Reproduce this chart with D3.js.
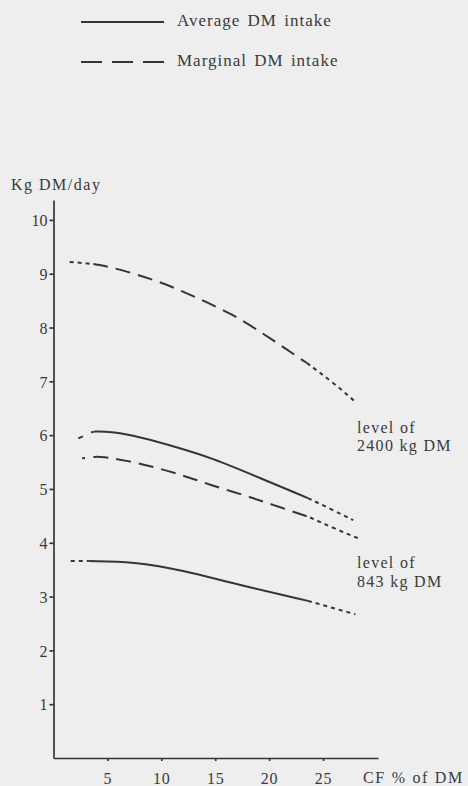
<!DOCTYPE html>
<html>
<head>
<meta charset="utf-8">
<script src="https://cdn.jsdelivr.net/npm/d3@7"></script>
<style>
  html, body { margin: 0; padding: 0; background: #eeeeee; }
  svg text { font-family: "Liberation Serif", "DejaVu Serif", serif; fill: #3a3a3a; }
</style>
</head>
<body>
<div class="svg-content"></div>
<script>
// tick values
const cfTicks = [5, 10, 15, 20, 25];
const dmTicks = [1, 2, 3, 4, 5, 6, 7, 8, 9, 10];

// [CF % of DM, Kg DM/day]
// level of 2400 kg DM
const marg2400Left = [[1.5, 9.22], [3.7, 9.18]];
const marg2400Main = [[3.7, 9.18], [5.2, 9.13], [7.5, 9.0], [10.3, 8.82], [13.1, 8.57], [16.4, 8.27], [19.2, 7.92], [21.3, 7.64], [23.5, 7.34]];
const marg2400Right = [[23.5, 7.34], [25.8, 7.0], [28, 6.62]];

const avg2400Left = [[2.3, 5.94], [3.7, 6.065]];
const avg2400Main = [[3.7, 6.065], [5.2, 6.07], [8.0, 5.97], [11.7, 5.76], [14.5, 5.59], [19.2, 5.2], [23.6, 4.83]];
const avg2400Right = [[23.6, 4.83], [25.8, 4.62], [27.8, 4.42]];

// level of 843 kg DM
const marg843Left = [[2.65, 5.57], [3.7, 5.595]];
const marg843Main = [[3.7, 5.595], [4.5, 5.6], [6.7, 5.53], [9.3, 5.41], [12.1, 5.25], [14.6, 5.07], [17.6, 4.89], [20.3, 4.71], [23.8, 4.47]];
const marg843Right = [[23.8, 4.47], [26, 4.27], [28.3, 4.08]];

const avg843Left = [[1.6, 3.66], [3.35, 3.66]];
const avg843Main = [[3.35, 3.66], [7.4, 3.65], [12, 3.49], [16.7, 3.24], [23.6, 2.92]];
const avg843Right = [[23.6, 2.92], [28, 2.67]];

const svgWidth = 468;
const svgHeight = 786;
const ink = "#353535";

let svg = d3.select(".svg-content")
            .append("svg")
            .attr("width", svgWidth)
            .attr("height", svgHeight);

const xScale = d3.scaleLinear()
                 .domain([0, 30.1])
                 .range([53.5, 378]);

const yScale = d3.scaleLinear()
                 .domain([0, 10.37])
                 .range([758, 200]);

const xAxis = d3.axisBottom(xScale)
                .tickValues(cfTicks)
                .tickSizeInner(3)
                .tickSizeOuter(0)
                .tickPadding(12);
const yAxis = d3.axisLeft(yScale)
                .tickValues(dmTicks)
                .tickSizeInner(4)
                .tickSizeOuter(0)
                .tickPadding(2);

let gx = svg.append("g")
            .attr("transform", "translate(0," + yScale(0) + ")")
            .call(xAxis);
let gy = svg.append("g")
            .attr("transform", "translate(" + xScale(0) + ",0)")
            .call(yAxis);

[gx, gy].forEach(g => {
  g.select(".domain").attr("stroke", ink).attr("stroke-width", 1.7);
  g.selectAll(".tick line").attr("stroke", ink).attr("stroke-width", 1.7);
  g.selectAll(".tick text")
   .attr("fill", "#3a3a3a")
   .style("font-family", "'Liberation Serif', serif")
   .style("font-size", "16px");
});
gy.selectAll(".tick text").attr("dy", "0.36em");
gx.selectAll(".tick text").style("letter-spacing", "0.8px");

// axis titles
svg.append("text")
   .attr("x", 11)
   .attr("y", 190)
   .style("font-size", "16px")
   .style("letter-spacing", "1.5px")
   .text("Kg DM/day");

svg.append("text")
   .attr("x", 363)
   .attr("y", 783)
   .style("font-size", "16px")
   .style("letter-spacing", "1.7px")
   .text("CF % of DM");

// curves
const line = d3.line()
               .x(d => xScale(d[0]))
               .y(d => yScale(d[1]))
               .curve(d3.curveBasis);

const dotted = "4,4";
const dashed = "15,8";

const pieces = [
  { data: marg2400Left, dash: dotted },
  { data: marg2400Main, dash: dashed },
  { data: marg2400Right, dash: dotted },
  { data: avg2400Left, dash: "5,9" },
  { data: avg2400Main, dash: null },
  { data: avg2400Right, dash: dotted },
  { data: marg843Left, dash: "3,9" },
  { data: marg843Main, dash: dashed },
  { data: marg843Right, dash: dotted },
  { data: avg843Left, dash: dotted },
  { data: avg843Main, dash: null },
  { data: avg843Right, dash: dotted }
];

svg.selectAll("path.curve")
   .data(pieces)
   .enter()
   .append("path")
   .attr("class", "curve")
   .attr("d", p => line(p.data))
   .attr("fill", "none")
   .attr("stroke", ink)
   .attr("stroke-width", 2)
   .attr("stroke-dasharray", p => p.dash);

// curve labels
const curveLabels = [
  { text: "level of", y: 433 },
  { text: "2400 kg DM", y: 451 },
  { text: "level of", y: 568 },
  { text: "843 kg DM", y: 587 }
];

svg.selectAll("text.level")
   .data(curveLabels)
   .enter()
   .append("text")
   .attr("class", "level")
   .attr("x", 357)
   .attr("y", d => d.y)
   .style("font-size", "16px")
   .style("letter-spacing", "1.3px")
   .text(d => d.text);

// legend
const legend = [
  { label: "Average DM intake", y: 22, dash: null },
  { label: "Marginal DM intake", y: 62, dash: "21,10" }
];

let lg = svg.selectAll("g.legend")
            .data(legend)
            .enter()
            .append("g")
            .attr("class", "legend");

lg.append("line")
  .attr("x1", 81)
  .attr("x2", 164)
  .attr("y1", d => d.y)
  .attr("y2", d => d.y)
  .attr("stroke", ink)
  .attr("stroke-width", 2)
  .attr("stroke-dasharray", d => d.dash);

lg.append("text")
  .attr("x", 177)
  .attr("y", d => d.y + 4)
  .style("font-size", "17px")
  .style("letter-spacing", "1px")
  .style("word-spacing", "2px")
  .text(d => d.label);
</script>
</body>
</html>
